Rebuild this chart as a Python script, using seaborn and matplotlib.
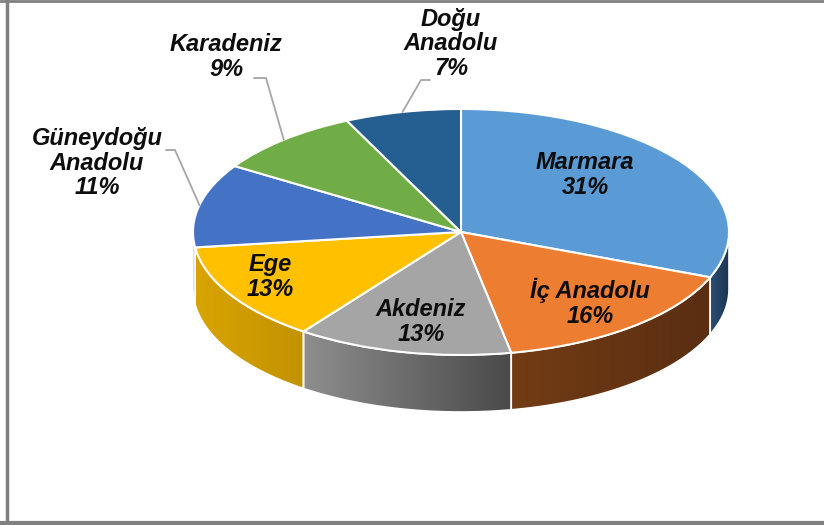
import numpy as np
import matplotlib
matplotlib.use("Agg")
import matplotlib.pyplot as plt
import seaborn as sns
from matplotlib.patches import Polygon
from matplotlib.lines import Line2D
from matplotlib.colors import LinearSegmentedColormap

# data: share of each region (%)
regions = ["Marmara", "İç Anadolu", "Akdeniz", "Ege",
           "Güneydoğu\nAnadolu", "Karadeniz", "Doğu\nAnadolu"]
shares = [31, 16, 13, 13, 11, 9, 7]
top_colors = ["#5B9BD5", "#ED7D31", "#A5A5A5", "#FFC000",
              "#4472C4", "#70AD47", "#255E91"]
# side wall gradient (left -> right)
side_colors = [("#2b4f74", "#1d3550"), ("#733c15", "#5a2e12"),
               ("#8e8e8e", "#4a4a4a"), ("#d9a400", "#c29200"),
               ("#30569a", "#2a4c88"), ("#5a8a38", "#4e7a30"),
               ("#1c4670", "#173a5c")]

sns.set_theme(style="white")
plt.rcParams["font.family"] = ["Liberation Sans", "DejaVu Sans"]

W, H = 824, 525
cx, cy, rx, ry, depth = 461, 232, 268, 123, 57

fig = plt.figure(figsize=(W / 100, H / 100), dpi=100)
ax = fig.add_axes([0, 0, 1, 1])


def to_data(px, py):
    return (px - cx) / rx, (cy - py) / ry


d = depth / ry
cum = np.concatenate([[0], np.cumsum(shares)])
edges = 90 - 3.6 * cum  # degrees, clockwise from 12 o'clock

# side walls for the front half (angles between -180 and 0)
for i in range(len(shares)):
    hi, lo = edges[i], edges[i + 1]
    a, b = max(lo, -180), min(hi, 0)
    if a >= b:
        continue
    t = np.radians(np.linspace(a, b, 80))
    xs, ys = np.cos(t), np.sin(t)
    pts = np.column_stack([np.concatenate([xs, xs[::-1]]),
                           np.concatenate([ys, ys[::-1] - d])])
    poly = Polygon(pts, closed=True, facecolor="none",
                   edgecolor="white", lw=1.2, zorder=2)
    ax.add_patch(poly)
    cmap = LinearSegmentedColormap.from_list("g", list(side_colors[i]))
    grad = np.linspace(0, 1, 256).reshape(1, -1)
    im = ax.imshow(grad, cmap=cmap, aspect="auto", zorder=1,
                   extent=[xs.min(), xs.max(), ys.min() - d, ys.max()])
    im.set_clip_path(poly)

# top surface
ax.pie(shares, colors=top_colors, startangle=90, counterclock=False,
       radius=1, center=(0, 0), frame=True,
       wedgeprops=dict(edgecolor="white", linewidth=1.5, zorder=3))
ax.set_xlim(-cx / rx, (W - cx) / rx)
ax.set_ylim(-(H - cy) / ry, cy / ry)
ax.set_aspect("auto")
ax.set_axis_off()

# labels (pixel positions of label centres)
label_px = [(585, 175), (590, 303), (421, 322), (270, 277),
            (97, 163), (226, 57), (451, 44)]
for name, val, (px, py) in zip(regions, shares, label_px):
    x, y = to_data(px, py)
    ax.text(x, y, f"{name}\n{val}%", ha="center", va="center",
            fontsize=17, fontweight="bold", fontstyle="italic",
            color="#0d0d0d", linespacing=1.1, zorder=5)

# leader lines for outside labels: (label end, elbow) -> slice edge
leaders = {4: [(166, 150), (175, 150)],
           5: [(254, 78), (266, 78)],
           6: [(430, 80), (421, 80)]}
for i, pts in leaders.items():
    mid = np.radians((edges[i] + edges[i + 1]) / 2)
    xs = [to_data(*p)[0] for p in pts] + [np.cos(mid)]
    ys = [to_data(*p)[1] for p in pts] + [np.sin(mid)]
    ax.plot(xs, ys, color="#a6a6a6", lw=1.3, zorder=4)

# chart border (left, top, bottom)
fig.add_artist(Line2D([6.5 / W, 6.5 / W], [0, 1], color="#808080", lw=2.5))
fig.add_artist(Line2D([0, 1], [1 - 1 / H, 1 - 1 / H], color="#808080", lw=2))
fig.add_artist(Line2D([0, 1], [2 / H, 2 / H], color="#808080", lw=3))

plt.savefig("out.png", dpi=100)
